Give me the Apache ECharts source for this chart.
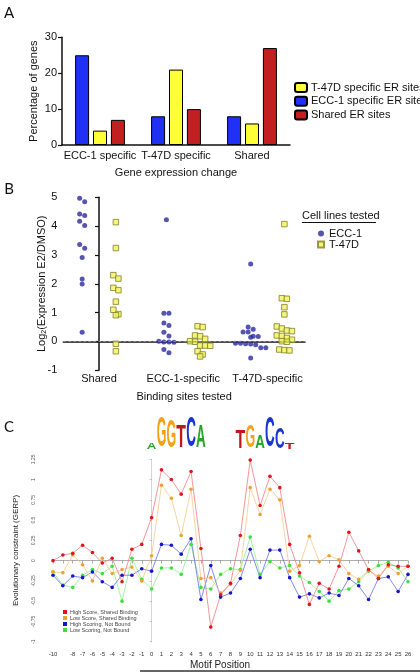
<!DOCTYPE html>
<html><head><meta charset="utf-8">
<script src="https://cdn.jsdelivr.net/npm/echarts@6/dist/echarts.min.js"></script>
<style>html,body{margin:0;padding:0;background:#fff}#c{width:420px;height:672px}</style>
</head><body><div id="c"></div>
<script>
// ---------- Panel A data ----------
const aCategories = ['ECC-1 specific', 'T-47D specific', 'Shared'];
const aECC1 = [25, 8, 8];
const aT47D = [4, 21, 6];
const aShared = [7, 10, 27];

// ---------- Panel B data ----------
const bGroups = ['Shared', 'ECC-1-specific', 'T-47D-specific'];
const bECC1_Shared = [4.97, 4.85, 4.42, 4.37, 4.17, 4.02, 3.36, 3.23, 2.91, 2.17, 1.99, 0.32];
const bECC1_ECC1 = [4.22, 0.98, 0.98, 0.64, 0.55, 0.32, 0.19, 0.01, -0.02, -0.02, -0.03, -0.28, -0.39];
const bECC1_T47D = [2.69, 0.50, 0.42, 0.33, 0.33, 0.18, 0.17, 0.15, -0.06, -0.06, -0.08, -0.09, -0.11, -0.22, -0.22, -0.57];
const bT47D_Shared = [4.14, 3.24, 2.30, 2.18, 1.86, 1.78, 1.38, 1.10, 0.95, 0.91, -0.08, -0.34];
const bT47D_ECC1 = [0.53, 0.50, 0.21, 0.18, 0.09, 0.01, -0.01, -0.14, -0.14, -0.15, -0.34, -0.45, -0.52];
const bT47D_T47D = [4.07, 1.50, 1.48, 1.19, 0.94, 0.52, 0.45, 0.38, 0.36, 0.21, 0.19, 0.12, 0.06, 0.01, -0.01, -0.28, -0.30, -0.31];

// ---------- Panel C data ----------
const cPositions = [-10,-9,-8,-7,-6,-5,-4,-3,-2,-1,0,1,2,3,4,5,6,7,8,9,10,11,12,13,14,15,16,17,18,19,20,21,22,23,24,25,26];
const cHighShared = [0.00,0.07,0.09,0.19,0.10,-0.03,0.03,-0.26,0.14,0.20, 0.53,1.12,1.00,0.82,1.10,0.15,-0.82,-0.42,-0.28,0.31, 1.24,0.68,1.04,0.90,0.20,-0.15,-0.54,-0.28,-0.35,-0.07, 0.35,0.12,-0.11,-0.22,-0.05,-0.07,-0.07];
const cLowShared = [-0.14,-0.15,0.07,-0.05,-0.25,0.03,-0.16,-0.11,-0.08,-0.25, 0.06,0.93,0.77,0.31,0.88,-0.22,-0.21,-0.40,-0.29,-0.12, 0.90,0.57,0.88,0.75,-0.13,-0.06,0.30,-0.01,0.06,0.01, -0.16,-0.23,-0.12,-0.19,-0.07,-0.16,-0.07];
const cHighNotBound = [-0.18,-0.31,-0.19,-0.21,-0.14,-0.26,-0.33,-0.18,-0.18,-0.10, -0.13,0.20,0.19,0.08,0.27,-0.48,-0.06,-0.45,-0.40,-0.22, 0.14,-0.21,0.13,0.13,-0.21,-0.45,-0.41,-0.46,-0.40,-0.43, -0.22,-0.31,-0.48,-0.22,-0.20,-0.38,-0.17];
const cLowNotBound = [-0.14,-0.30,-0.33,-0.18,-0.11,-0.16,-0.07,-0.50,0.03,-0.23, -0.35,-0.09,-0.09,-0.17,0.20,-0.33,-0.35,-0.17,-0.10,-0.11, 0.29,-0.17,-0.01,-0.09,-0.06,-0.19,-0.27,-0.38,-0.50,-0.37, -0.35,-0.26,-0.13,-0.06,-0.02,-0.09,-0.26];
const cSeriesNames = ['High Score, Shared Binding', 'Low Score, Shared Binding', 'High Scoring, Not Bound', 'Low Scoring, Not Bound'];

// sequence logo (letters at motif positions, heights in bits)
const logoLeftLetters = ['A','G','G','T','C','A'];
const logoLeftBits = [0.45, 2.0, 1.82, 1.42, 2.0, 1.42];
const logoLeftStart = 0;
const logoRightLetters = ['T','G','A','C','C','T'];
const logoRightBits = [1.18, 1.42, 0.86, 2.0, 1.38, 0.45];
const logoRightStart = 9;

const FONT = '"Liberation Sans", Arial, sans-serif';

// simple beeswarm: points at nearly the same level are spread sideways
function swarm(values, center, step, thr) {
  const sorted = values.slice().sort((a, b) => b - a);
  const out = [];
  let bin = [];
  const flush = () => {
    const n = bin.length;
    bin.forEach((v, i) => out.push([center + (i - (n - 1) / 2) * step, v]));
    bin = [];
  };
  for (const v of sorted) {
    if (bin.length && bin[0] - v > thr) flush();
    bin.push(v);
  }
  flush();
  return out;
}
const colOff = 0.2, step = 0.06, thr = 0.165;
const bBlueData = [].concat(
  swarm(bECC1_Shared, 0 - colOff, step, thr),
  swarm(bECC1_ECC1, 1 - colOff, step, thr),
  swarm(bECC1_T47D, 2 - colOff, step, thr));
const bYellowData = [].concat(
  swarm(bT47D_Shared, 0 + colOff, step, thr),
  swarm(bT47D_ECC1, 1 + colOff, step, thr),
  swarm(bT47D_T47D, 2 + colOff, step, thr));

const cData = [cHighShared, cLowShared, cHighNotBound, cLowNotBound].map(arr => arr.map((v, i) => [cPositions[i], v]));
const cColors = ['#e0141e', '#f0a030', '#1414c8', '#3ce03c'];
const cLineColors = ['#f07a80', '#f6c888', '#6a6af0', '#8cf08c'];

const chart = echarts.init(document.getElementById('c'), null, {renderer: 'canvas'});

const axisBlack = {lineStyle: {color: '#111', width: 1.5}};
const option = {
  animation: false,
  backgroundColor: '#fff',
  textStyle: {fontFamily: FONT},
  grid: [
    {left: 62, top: 37.3, width: 228, height: 107.7},
    {left: 63.3, top: 197.3, right: 115, height: 173},
    {left: 53, top: 459.3, right: 12, bottom: 30.3}
  ],
  legend: [
    {
      data: ['T-47D specific ER sites', 'ECC-1 specific ER sites', 'Shared ER sites'],
      orient: 'vertical', left: 289, top: 77, itemWidth: 12, itemHeight: 9, itemGap: 2.7,
      textStyle: {fontSize: 11, lineHeight: 9, color: '#111', fontFamily: FONT, padding: [0, 0, 0, -1]}
    },
    {
      data: [{name: 'ECC-1', icon: 'circle'}, {name: 'T-47D', icon: 'rect'}],
      orient: 'vertical', left: 312, top: 223, itemWidth: 6, itemHeight: 6, itemGap: 0,
      textStyle: {fontSize: 11, lineHeight: 11, color: '#111', fontFamily: FONT}
    },
    {
      data: cSeriesNames,
      orient: 'vertical', left: 58, top: 604, itemWidth: 4, itemHeight: 4, itemGap: 0, icon: 'rect',
      textStyle: {fontSize: 5.5, lineHeight: 6, color: '#444', fontFamily: FONT, padding: [0, 0, 0, -2]}
    }
  ],
  xAxis: [
    {
      gridIndex: 0, type: 'category', data: aCategories,
      axisLine: axisBlack, axisTick: {show: false},
      axisLabel: {fontSize: 11, color: '#111', margin: 5, interval: 0},
      name: 'Gene expression change', nameLocation: 'middle', nameGap: 22,
      nameTextStyle: {fontSize: 11, color: '#111'}
    },
    {
      gridIndex: 1, type: 'value', min: -0.424, max: 2.445,
      axisLine: axisBlack, axisTick: {show: false}, splitLine: {show: false},
      axisLabel: {customValues: [0, 1, 2], formatter: v => bGroups[Math.round(v)] || '', fontSize: 11, color: '#111', margin: 3, hideOverlap: false},
      name: 'Binding sites tested', nameLocation: 'middle', nameGap: 21,
      nameTextStyle: {fontSize: 11, color: '#111'}
    },
    {
      gridIndex: 2, type: 'value', min: -10, max: 26, interval: 1, offset: 7,
      axisLine: {lineStyle: {color: '#777', width: 0.6}},
      axisTick: {length: 3, lineStyle: {color: '#777', width: 0.6}},
      splitLine: {show: false},
      axisLabel: {fontSize: 6, color: '#333', margin: 3, formatter: v => (v === -9 ? '' : String(v))}
    }
  ],
  yAxis: [
    {
      gridIndex: 0, type: 'value', min: 0, max: 30, interval: 10,
      axisLine: {show: true, lineStyle: {color: '#111', width: 1.5}},
      axisTick: {show: true, length: 4, lineStyle: {color: '#111', width: 1.2}},
      splitLine: {show: false},
      axisLabel: {fontSize: 11, color: '#111', margin: 5},
      name: 'Percentage of genes', nameLocation: 'middle', nameGap: 23, nameMoveOverlap: false,
      nameTextStyle: {fontSize: 11, color: '#111'}
    },
    {
      gridIndex: 1, type: 'value', min: -1, max: 5, interval: 1,
      axisLine: {show: true, lineStyle: {color: '#111', width: 1.5}},
      axisTick: {show: true, length: 4, lineStyle: {color: '#111', width: 1.2}},
      splitLine: {show: false},
      axisLabel: {fontSize: 11, color: '#111', margin: 6},
      name: '{a|Log}{s|2}{a|(Expression E2/DMSO)}', nameLocation: 'middle', nameGap: 15.5, nameMoveOverlap: false,
      nameTextStyle: {rich: {a: {fontSize: 11, color: '#111', fontFamily: FONT}, s: {fontSize: 7, color: '#111', fontFamily: FONT, verticalAlign: 'bottom', padding: [5, 0, 0, 0]}}}
    },
    {
      gridIndex: 2, type: 'value', min: -1, max: 1.25, interval: 0.25, offset: 13,
      axisLine: {show: true, lineStyle: {color: '#aaa', width: 0.5}},
      axisTick: {show: true, length: 2, lineStyle: {color: '#888', width: 0.5}},
      splitLine: {show: false},
      axisLabel: {fontSize: 5, color: '#555', margin: 4, rotate: 90},
      name: 'Evolutionary constraint (GERP)', nameLocation: 'middle', nameGap: 20,
      nameTextStyle: {fontSize: 8, color: '#222'}
    }
  ],
  series: [
    {name: 'ECC-1 specific ER sites', type: 'bar', xAxisIndex: 0, yAxisIndex: 0, data: aECC1, barWidth: 14, barGap: '28%',
      itemStyle: {color: '#2030f5', borderColor: '#000', borderWidth: 1}},
    {name: 'T-47D specific ER sites', type: 'bar', xAxisIndex: 0, yAxisIndex: 0, data: aT47D, barWidth: 14, barGap: '28%',
      itemStyle: {color: '#ffff38', borderColor: '#000', borderWidth: 1}},
    {name: 'Shared ER sites', type: 'bar', xAxisIndex: 0, yAxisIndex: 0, data: aShared, barWidth: 14, barGap: '28%',
      itemStyle: {color: '#c22020', borderColor: '#000', borderWidth: 1}},
    {name: 'ECC-1', type: 'scatter', xAxisIndex: 1, yAxisIndex: 1, data: bBlueData, symbol: 'circle', symbolSize: 5,
      itemStyle: {color: '#2a2a9e'},
      markLine: {silent: true, symbol: 'none', label: {show: false}, data: [{yAxis: 0}],
        lineStyle: {color: '#999', type: [3, 2], width: 0.8}}},
    {name: 'T-47D', type: 'scatter', xAxisIndex: 1, yAxisIndex: 1, data: bYellowData, symbol: 'rect', symbolSize: 5.5,
      itemStyle: {color: '#f2f25a', borderColor: '#80802a', borderWidth: 1}},
  ].concat([3, 2, 1, 0].map(k => ({
    name: cSeriesNames[k], type: 'line', xAxisIndex: 2, yAxisIndex: 2, data: cData[k],
    symbol: 'circle', symbolSize: 3.6, showAllSymbol: true,
    lineStyle: {color: cLineColors[k], width: 0.8},
    itemStyle: {color: cColors[k]}
  })))
};
chart.setOption(option);

// ---------- graphics: panel letters, legend title, logo ----------
const graphics = [
  {type: 'text', x: 9, y: 13, style: {text: 'A', font: '15px Lato, "Open Sans", sans-serif', fill: '#111', align: 'center', verticalAlign: 'middle'}},
  {type: 'text', x: 9, y: 189, style: {text: 'B', font: '15px Lato, "Open Sans", sans-serif', fill: '#111', align: 'center', verticalAlign: 'middle'}},
  {type: 'text', x: 9, y: 427, style: {text: 'C', font: '15px Lato, "Open Sans", sans-serif', fill: '#111', align: 'center', verticalAlign: 'middle'}},
  {type: 'text', x: 302, y: 216, style: {text: 'Cell lines tested', font: '11px ' + FONT, fill: '#111', align: 'left', verticalAlign: 'middle'}},
  {type: 'line', shape: {x1: 302, y1: 222.5, x2: 376, y2: 222.5}, style: {stroke: '#111', lineWidth: 1}},
  {type: 'text', x: 220, y: 665, style: {text: 'Motif Position', font: '10px ' + FONT, fill: '#222', align: 'center', verticalAlign: 'middle'}},
  {type: 'line', shape: {x1: 140, y1: 671, x2: 420, y2: 671}, style: {stroke: '#333', lineWidth: 1.5}}
];
const logoColors = {A: '#26a826', G: '#f2a21a', T: '#c01818', C: '#1a34d0'};
const glyphW = {A: 0.722, G: 0.778, T: 0.611, C: 0.722};
const F = 20, capH = 0.716 * F;
const pxPerBit = 15.5;
const baseY = 450;
function addLogo(letters, bits, start) {
  letters.forEach((L, i) => {
    const p0 = chart.convertToPixel({gridIndex: 2}, [start + i - 0.5, 0]);
    const p1 = chart.convertToPixel({gridIndex: 2}, [start + i + 0.5, 0]);
    const w = (p1[0] - p0[0]) * 0.98;
    const h = bits[i] * pxPerBit;
    graphics.push({
      type: 'text', x: (p0[0] + p1[0]) / 2, y: baseY - h / 2,
      scaleX: w / (glyphW[L] * F), scaleY: h / capH,
      style: {text: L, font: 'bold ' + F + 'px ' + FONT, fill: logoColors[L], align: 'center', verticalAlign: 'middle'}
    });
  });
}
addLogo(logoLeftLetters, logoLeftBits, logoLeftStart);
addLogo(logoRightLetters, logoRightBits, logoRightStart);
chart.setOption({graphic: graphics});
</script>
</body></html>
